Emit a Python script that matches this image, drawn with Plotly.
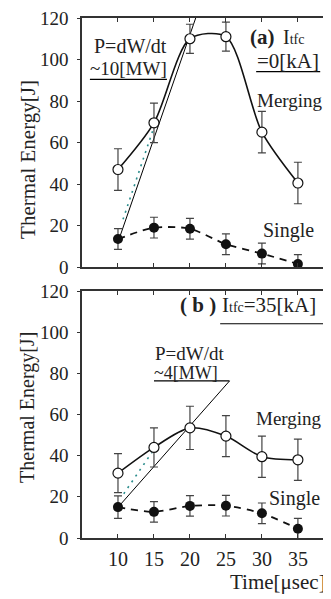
import plotly.graph_objects as go

# ---------------- data ----------------
time_us = [10, 15, 20, 25, 30, 35]

# panel (a) Itfc = 0 kA
merging_a = [47, 69.5, 110, 111, 65, 40.5]
merging_a_err = [10, 9.5, 7, 7, 10, 10]
single_a = [13.5, 19, 18.5, 11, 6.5, 1.5]
single_a_err = [5, 5, 5, 5, 5, 4.5]
fit_a_t = [10.3, 21.5]          # P = dW/dt ~ 10 MW
fit_a_w = [15, 127]
dot_a_t = [10.7, 15.0]
dot_a_w = [23, 67.5]

# panel (b) Itfc = 35 kA
merging_b = [31.5, 44, 53.5, 49.5, 39.5, 38]
merging_b_err = [9.5, 9.5, 10.5, 10, 10, 10]
single_b = [15, 12.7, 15.6, 15.7, 12, 4.5]
single_b_err = [5.5, 5, 5, 5, 5, 5]
fit_b_t = [10.4, 25.5]          # P = dW/dt ~ 4 MW
fit_b_w = [16.5, 76.3]
dot_b_t = [10.8, 14.7]
dot_b_w = [21.5, 41.5]

y_ticks = [0, 20, 40, 60, 80, 100, 120]
x_ticks = [10, 15, 20, 25, 30, 35]
x_tick_labels = ["10", "15", "20", "25", "30", "35"]

FONT = "Liberation Serif, Times New Roman, serif"
TXT = "#222222"

fig = go.Figure()


def add_panel(xa, ya, merging, merging_err, single, single_err, fit_t, fit_w, dot_t, dot_w):
    fig.add_trace(go.Scatter(x=fit_t, y=fit_w, mode="lines", xaxis=xa, yaxis=ya,
                             line=dict(color="black", width=1), showlegend=False,
                             hoverinfo="skip"))
    fig.add_trace(go.Scatter(x=dot_t, y=dot_w, mode="lines", xaxis=xa, yaxis=ya,
                             line=dict(color="#2a8c8c", width=1.6, dash="2px,5px"),
                             showlegend=False, hoverinfo="skip"))
    fig.add_trace(go.Scatter(x=time_us, y=single, mode="lines+markers", xaxis=xa, yaxis=ya,
                             line=dict(color="#111111", width=1.8, dash="7px,6px",
                                       shape="spline", smoothing=0.7),
                             marker=dict(size=10, color="#111111", symbol="circle"),
                             error_y=dict(type="data", array=single_err, color="#444444",
                                          thickness=1.2, width=4),
                             showlegend=False, cliponaxis=False))
    fig.add_trace(go.Scatter(x=time_us, y=merging, mode="lines+markers", xaxis=xa, yaxis=ya,
                             line=dict(color="#111111", width=1.6, shape="spline", smoothing=0.8),
                             marker=dict(size=10, color="white", symbol="circle",
                                         line=dict(color="#111111", width=1.2)),
                             error_y=dict(type="data", array=merging_err, color="#444444",
                                          thickness=1.2, width=4),
                             showlegend=False, cliponaxis=False))


add_panel("x", "y", merging_a, merging_a_err, single_a, single_a_err,
          fit_a_t, fit_a_w, dot_a_t, dot_a_w)
add_panel("x2", "y2", merging_b, merging_b_err, single_b, single_b_err,
          fit_b_t, fit_b_w, dot_b_t, dot_b_w)

XR = [5, 39.6]
frame = dict(showline=True, linecolor="#333333", linewidth=1.5, showgrid=False,
             zeroline=False)

xcommon = dict(range=XR, tickvals=x_ticks, ticktext=x_tick_labels, ticks="inside",
               ticklen=4, tickwidth=1, tickcolor="#333333", mirror="ticks", **frame)
ycommon = dict(range=[0, 120], tickvals=y_ticks, ticks="outside", ticklen=3,
               tickwidth=1, tickcolor="#333333", ticklabelstandoff=5,
               ticklabeloverflow="allow",
               tickfont=dict(family=FONT, size=19, color=TXT), **frame)
yright = dict(range=[0, 120], tickvals=y_ticks, ticks="inside", ticklen=4, tickwidth=1,
              tickcolor="#333333", showticklabels=False, showline=False,
              showgrid=False, zeroline=False, side="right")

dom_a = [0.521, 1.0]
dom_b = [0.0, 0.475]

# the page body adds an 8px margin, so the figure is sized to compensate
fig.update_layout(
    width=323, height=591,
    margin=dict(l=74, r=0, t=6, b=61),
    paper_bgcolor="white", plot_bgcolor="white",
    font=dict(family=FONT, size=18, color=TXT),
    xaxis=dict(anchor="y", showticklabels=False, **xcommon),
    yaxis=dict(domain=dom_a, anchor="x", **ycommon),
    xaxis2=dict(anchor="y2", showticklabels=True, ticklabelstandoff=2,
                ticklabeloverflow="allow",
                tickfont=dict(family=FONT, size=20, color=TXT), **xcommon),
    yaxis2=dict(domain=dom_b, anchor="x2", **ycommon),
    yaxis3=dict(overlaying="y", anchor="x", **yright),
    yaxis4=dict(overlaying="y2", anchor="x2", **yright),
)

# underlines
fig.add_shape(type="line", xref="x", yref="y", x0=6.1, x1=16.8, y0=90.4, y1=90.4,
              line=dict(color="black", width=1.2))
fig.add_shape(type="line", xref="x", yref="y", x0=29.2, x1=38.1, y0=94.2, y1=94.2,
              line=dict(color="black", width=1.2))
fig.add_shape(type="line", xref="x2", yref="y2", x0=15.0, x1=25.5, y0=76.3, y1=76.3,
              line=dict(color="black", width=1.2))
fig.add_shape(type="line", xref="x2", yref="y2", x0=24.2, x1=38.8, y0=104.1, y1=104.1,
              line=dict(color="black", width=1.2))

SUB = "<span style='font-size:14px'>tfc</span>"


def ann(text, x, y, xr, yr, xanchor="center", size=17, angle=0):
    fig.add_annotation(text=text, x=x, y=y, xref=xr, yref=yr, showarrow=False,
                       xanchor=xanchor, yanchor="middle", textangle=angle,
                       font=dict(family=FONT, size=size, color=TXT))


# panel a texts
ann("P=dW/dt", 11.67, 106.6, "x", "y", size=20)
ann("~10[MW]", 11.5, 95.6, "x", "y", size=19)
ann("<b>(a)</b>", 30.15, 110.9, "x", "y", size=21)
ann("I" + SUB, 32.65, 110.9, "x", "y", xanchor="left", size=20)
ann("=0[kA]", 33.62, 99.4, "x", "y", size=21)
ann("Merging", 33.9, 80.3, "x", "y", size=19)
ann("Single", 33.76, 17.7, "x", "y", size=20)

# panel b texts
ann("P=dW/dt", 20.0, 89.6, "x2", "y2", size=19)
ann("~4[MW]", 19.45, 80.0, "x2", "y2", size=18)
ann("<b>( b )</b>", 21.12, 113.3, "x2", "y2", size=21)
ann("I" + SUB + "=35[kA]", 24.17, 113.3, "x2", "y2", xanchor="left", size=21)
ann("Merging", 33.76, 58.3, "x2", "y2", size=19)
ann("Single", 34.46, 19.3, "x2", "y2", size=20)

# axis titles
ann("Thermal Energy[J]", -0.217, 0.729, "paper", "paper", size=21, angle=-90)
ann("Thermal Energy[J]", -0.217, 0.252, "paper", "paper", size=20, angle=-90)
ann("Time[μsec]", 0.988, -0.084, "paper", "paper", xanchor="right", size=21)

fig.write_html("out.html")
